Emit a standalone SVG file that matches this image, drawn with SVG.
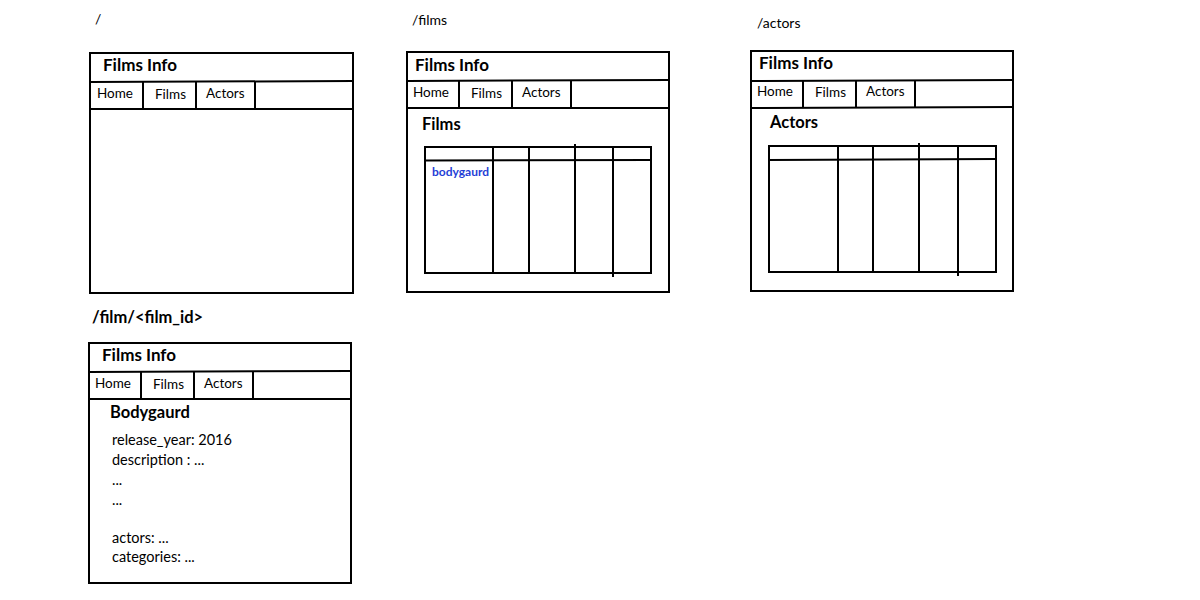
<svg xmlns="http://www.w3.org/2000/svg" width="1200" height="600" viewBox="0 0 1200 600">
<style>
text{font-family:Lato,"Open Sans","Liberation Sans",sans-serif;fill:#000}
.route{font-size:14px}
.title{font-size:17px;font-weight:bold}
.tab{font-size:13.5px}
.head{font-size:16.5px;font-weight:bold}
.link{font-size:12px;font-weight:bold;fill:#1f3ed6}
.body{font-size:14.5px}
.frame{fill:#fff;stroke:#000;stroke-width:2}
.ln{fill:none;stroke:#000;stroke-width:2}
</style>
<rect width="1200" height="600" fill="#fff"/>

<g id="page-home">
<text class="route" x="95" y="24">/</text>
<rect class="frame" x="90" y="53" width="263" height="240"/>
<line class="ln" x1="90" y1="82" x2="353" y2="81"/>
<line class="ln" x1="90" y1="109" x2="353" y2="109"/>
<line class="ln" x1="143" y1="82" x2="143" y2="109"/>
<line class="ln" x1="196" y1="82" x2="196" y2="109"/>
<line class="ln" x1="255" y1="82" x2="255" y2="109"/>
<text class="title" x="103" y="71">Films Info</text>
<text class="tab" x="97" y="98">Home</text>
<text class="tab" x="155" y="99">Films</text>
<text class="tab" x="206" y="98">Actors</text>
</g>

<g id="page-films">
<text class="route" x="412" y="25">/films</text>
<rect class="frame" x="407" y="52" width="262" height="240"/>
<line class="ln" x1="407" y1="81" x2="669" y2="80"/>
<line class="ln" x1="407" y1="108" x2="669" y2="108"/>
<line class="ln" x1="459" y1="81" x2="459" y2="108"/>
<line class="ln" x1="512" y1="81" x2="512" y2="108"/>
<line class="ln" x1="571" y1="81" x2="571" y2="108"/>
<text class="title" x="415" y="71">Films Info</text>
<text class="tab" x="413" y="97">Home</text>
<text class="tab" x="471" y="98">Films</text>
<text class="tab" x="522" y="97">Actors</text>
<text class="head" x="422" y="130">Films</text>
<rect class="ln" x="425" y="147" width="226" height="126"/>
<line class="ln" x1="425" y1="160.5" x2="651" y2="160"/>
<line class="ln" x1="493" y1="147" x2="493" y2="273"/>
<line class="ln" x1="529" y1="147" x2="529" y2="272"/>
<line class="ln" x1="575" y1="144" x2="575" y2="273"/>
<line class="ln" x1="613" y1="147" x2="613" y2="277"/>
<text class="link" x="432" y="176">bodygaurd</text>
</g>

<g id="page-actors">
<text class="route" x="757" y="28">/actors</text>
<rect class="frame" x="751" y="51" width="262" height="240"/>
<line class="ln" x1="751" y1="81" x2="1013" y2="80"/>
<line class="ln" x1="751" y1="108" x2="1013" y2="107"/>
<line class="ln" x1="803" y1="81" x2="803" y2="108"/>
<line class="ln" x1="856" y1="81" x2="856" y2="108"/>
<line class="ln" x1="915" y1="81" x2="915" y2="107"/>
<text class="title" x="759" y="69">Films Info</text>
<text class="tab" x="757" y="96">Home</text>
<text class="tab" x="815" y="97">Films</text>
<text class="tab" x="866" y="96">Actors</text>
<text class="head" x="770" y="128">Actors</text>
<rect class="ln" x="769" y="146" width="227" height="126"/>
<line class="ln" x1="769" y1="160" x2="996" y2="159"/>
<line class="ln" x1="838" y1="146" x2="838" y2="272"/>
<line class="ln" x1="873" y1="146" x2="873" y2="271"/>
<line class="ln" x1="919" y1="143" x2="919" y2="272"/>
<line class="ln" x1="958" y1="146" x2="958" y2="276"/>
</g>

<g id="page-film-detail">
<text class="head" x="92" y="323">/film/&lt;film_id&gt;</text>
<rect class="frame" x="89" y="343" width="262" height="240"/>
<line class="ln" x1="89" y1="372" x2="351" y2="371"/>
<line class="ln" x1="89" y1="399" x2="351" y2="399"/>
<line class="ln" x1="141" y1="372" x2="141" y2="399"/>
<line class="ln" x1="194" y1="372" x2="194" y2="399"/>
<line class="ln" x1="253" y1="372" x2="253" y2="399"/>
<text class="title" x="102" y="361">Films Info</text>
<text class="tab" x="95" y="388">Home</text>
<text class="tab" x="153" y="389">Films</text>
<text class="tab" x="204" y="388">Actors</text>
<text class="head" x="110" y="418">Bodygaurd</text>
<text class="body" x="112" y="445">release_year: 2016</text>
<text class="body" x="112" y="465">description : ...</text>
<text class="body" x="112" y="485">...</text>
<text class="body" x="112" y="505">...</text>
<text class="body" x="112" y="543">actors: ...</text>
<text class="body" x="112" y="562">categories: ...</text>
</g>
</svg>
